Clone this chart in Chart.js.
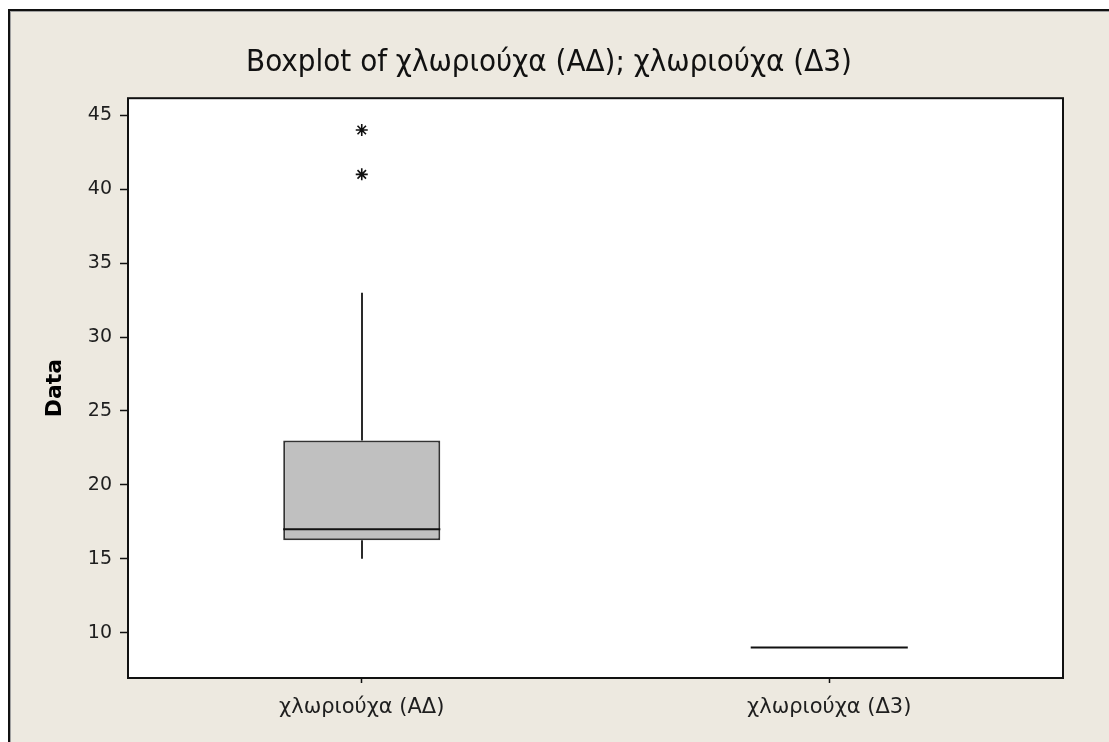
<!DOCTYPE html>
<html>
<head>
<meta charset="utf-8">
<script src="https://cdn.jsdelivr.net/npm/chart.js@4"></script>
<style>
  html, body { margin: 0; padding: 0; background: #fff; overflow: hidden; }
  canvas { display: block; }
</style>
</head>
<body>
<canvas id="c" width="1109" height="742"></canvas>
<script>
// Box plot summary per group
const categories = ['χλωριούχα (ΑΔ)', 'χλωριούχα (Δ3)'];
const q1 = [16.25, 9];
const q3 = [23, 9];
const medians = [17, 9];
const whiskerLow = [15, 9];
const whiskerHigh = [33, 9];
// Outliers (drawn as asterisks)
const outlierGroup = ['χλωριούχα (ΑΔ)', 'χλωριούχα (ΑΔ)'];
const outlierValues = [44, 41];
// Value axis
const yTicks = [10, 15, 20, 25, 30, 35, 40, 45];
const yMin = 6.94;
const yMax = 46.15;

const FONT = "'DejaVu Sans', Verdana, sans-serif";
const TITLE_FONT = "'DejaVu Sans Condensed', 'DejaVu Sans', sans-serif";
const PANEL = '#EDE9E0';
const INK = '#1e1e1e';

// Background panel, plot frame, whiskers and median lines
const boxPlot = {
  id: 'boxPlot',
  beforeDraw(chart) {
    const { ctx, width, height, chartArea: a } = chart;
    ctx.save();
    ctx.fillStyle = '#ffffff';
    ctx.fillRect(0, 0, width, height);
    ctx.fillStyle = PANEL;
    ctx.fillRect(8, 9, width - 8, height - 9);
    ctx.fillStyle = '#111';
    ctx.fillRect(8, 9, width - 8, 2);
    ctx.fillRect(8, 9, 2, height - 9);
    ctx.fillStyle = '#a0a0a0';
    ctx.fillRect(10, 11, width - 10, 1);
    ctx.fillRect(10, 11, 1, height - 11);
    ctx.fillStyle = '#ffffff';
    ctx.fillRect(a.left, a.top, a.right - a.left, a.bottom - a.top);
    ctx.restore();
  },
  afterDatasetsDraw(chart) {
    const { ctx, scales: { x, y } } = chart;
    const bars = chart.getDatasetMeta(0).data;
    ctx.save();
    ctx.lineWidth = 2;
    categories.forEach((c, i) => {
      const cx = Math.round(x.getPixelForValue(i));
      const half = bars[i].width / 2;
      ctx.strokeStyle = '#2a2a2a';
      // upper whisker
      if (whiskerHigh[i] > q3[i]) {
        ctx.beginPath();
        ctx.moveTo(cx, y.getPixelForValue(q3[i]));
        ctx.lineTo(cx, y.getPixelForValue(whiskerHigh[i]));
        ctx.stroke();
      }
      // lower whisker
      if (whiskerLow[i] < q1[i]) {
        ctx.beginPath();
        ctx.moveTo(cx, y.getPixelForValue(q1[i]));
        ctx.lineTo(cx, y.getPixelForValue(whiskerLow[i]));
        ctx.stroke();
      }
      // median
      const my = y.getPixelForValue(medians[i]);
      ctx.strokeStyle = '#111';
      ctx.beginPath();
      ctx.moveTo(bars[i].x - half, my);
      ctx.lineTo(bars[i].x + half, my);
      ctx.stroke();
    });
    ctx.restore();
  },
  afterDraw(chart) {
    const { ctx, chartArea: a } = chart;
    ctx.save();
    ctx.strokeStyle = '#111';
    ctx.lineWidth = 2;
    ctx.strokeRect(a.left, a.top, a.right - a.left, a.bottom - a.top);
    ctx.restore();
  }
};

new Chart(document.getElementById('c'), {
  type: 'bar',
  data: {
    labels: categories,
    datasets: [
      {
        type: 'bar',
        data: categories.map((c, i) => [q1[i], q3[i]]),
        backgroundColor: '#C0C0C0',
        borderColor: '#333333',
        borderWidth: 2,
        borderSkipped: false,
        barPercentage: 0.336,
        categoryPercentage: 1.0,
        order: 2
      },
      {
        type: 'line',
        data: outlierGroup.map((g, i) => ({ x: g, y: outlierValues[i] })),
        showLine: false,
        pointStyle: 'star',
        pointRadius: 6,
        pointBorderWidth: 1.6,
        pointBorderColor: '#111',
        pointBackgroundColor: '#111',
        order: 1
      }
    ]
  },
  options: {
    responsive: false,
    animation: false,
    layout: { padding: { left: 35, right: 46, top: 0, bottom: 0 } },
    plugins: {
      legend: { display: false },
      tooltip: { enabled: false },
      title: {
        display: true,
        text: 'Boxplot of χλωριούχα (ΑΔ); χλωριούχα (Δ3)',
        color: '#111',
        font: { family: TITLE_FONT, size: 31, weight: 'normal', lineHeight: 1.2 },
        padding: { top: 44, bottom: 17 }
      }
    },
    scales: {
      x: {
        type: 'category',
        offset: true,
        afterFit(scale) { scale.height = 64; },
        grid: {
          display: true,
          offset: false,
          drawOnChartArea: false,
          drawTicks: true,
          tickLength: 5,
          tickColor: '#111',
          tickWidth: 1.5
        },
        border: { display: false },
        ticks: {
          color: INK,
          padding: 12,
          font: { family: FONT, size: 21 }
        }
      },
      y: {
        type: 'linear',
        min: yMin,
        max: yMax,
        afterFit(scale) { scale.width = 93; },
        afterBuildTicks(scale) { scale.ticks = yTicks.map(v => ({ value: v })); },
        grid: {
          display: true,
          drawOnChartArea: false,
          drawTicks: true,
          tickLength: 8,
          tickColor: '#111',
          tickWidth: 1.5
        },
        border: { display: false },
        ticks: {
          color: INK,
          padding: 8,
          font: { family: FONT, size: 19 }
        },
        title: {
          display: true,
          text: 'Data',
          color: '#000',
          font: { family: FONT, size: 22, weight: 'bold', lineHeight: 1.2 },
          padding: { top: 7, bottom: 0 }
        }
      }
    }
  },
  plugins: [boxPlot]
});
</script>
</body>
</html>
